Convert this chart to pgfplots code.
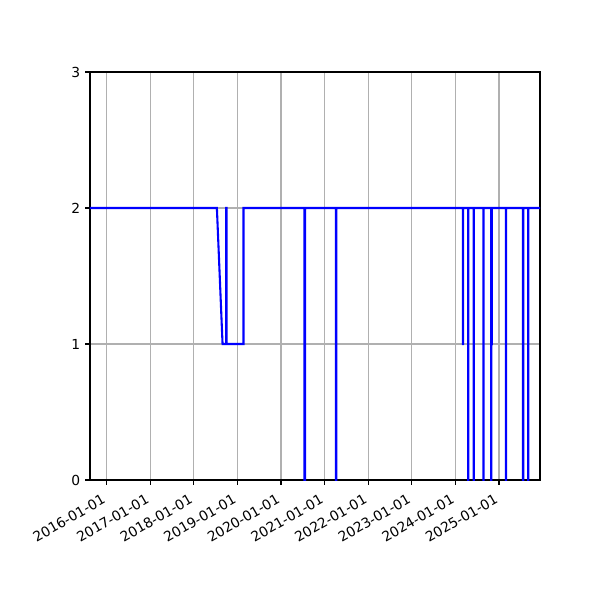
\documentclass[border=0pt]{standalone}
\usepackage{fontspec}
\setmainfont{DejaVu Sans}
\usepackage{pgfplots}
\pgfplotsset{compat=1.18}

\definecolor{gridgray}{HTML}{B0B0B0}

\begin{document}
\begin{tikzpicture}
\begin{axis}[
    scale only axis,
    width=4.5in, height=4.08in,
    xmin=2015.62, xmax=2025.94,
    ymin=0, ymax=3,
    ytick={0,1,2,3},
    xtick={2016,2017,2018,2019,2020,2021,2022,2023,2024,2025},
    xticklabels={2016-01-01,2017-01-01,2018-01-01,2019-01-01,2020-01-01,2021-01-01,2022-01-01,2023-01-01,2024-01-01,2025-01-01},
    xticklabel style={rotate=30, anchor=north east, xshift=-3pt, font=\fontsize{10}{12}\selectfont},
    yticklabel style={font=\fontsize{10}{12}\selectfont},
    /pgf/number format/assume math mode=true,
    grid=major,
    major grid style={gridgray, line width=0.8pt},
    tick align=outside,
    tick pos=left,
    major tick length=3.5pt,
    every tick/.style={black, line width=0.8pt},
    axis line style={line width=0.8pt},
]
\addplot[blue, line width=1.5pt, line join=miter] coordinates {
(2015.62,2) (2018.53,2) (2018.66,1) (2018.74,1) (2018.74,2) (2018.75,2) (2018.75,1)
(2019.14,1) (2019.14,2)
(2020.54,2) (2020.54,0) (2020.55,0) (2020.55,2)
(2021.26,2) (2021.26,0) (2021.27,0) (2021.27,2)
(2024.17,2) (2024.17,1) (2024.175,1) (2024.175,2)
(2024.29,2) (2024.29,0) (2024.295,0) (2024.295,2)
(2024.42,2) (2024.42,0) (2024.425,0) (2024.425,2)
(2024.64,2) (2024.64,0) (2024.645,0) (2024.645,2)
(2024.82,2) (2024.82,0) (2024.825,0) (2024.825,1) (2024.835,1) (2024.835,2)
(2025.16,2) (2025.16,0) (2025.165,0) (2025.165,2)
(2025.55,2) (2025.55,0) (2025.555,0) (2025.555,2)
(2025.67,2) (2025.67,0) (2025.675,0) (2025.675,2)
(2025.94,2)
};
\end{axis}
\path[use as bounding box] (current axis.south west) ++(-0.9in,-1.2in) rectangle ++(6in,6in);
\end{tikzpicture}
\end{document}
